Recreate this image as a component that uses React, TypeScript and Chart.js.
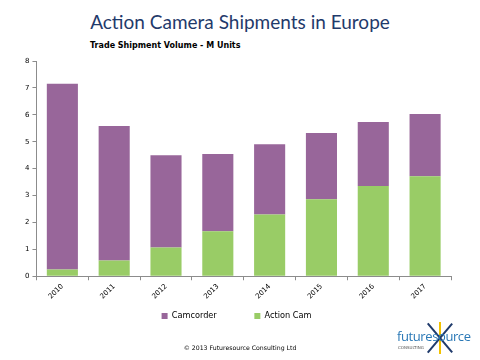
import React, { useEffect, useRef } from "react";
import { Chart, registerables } from "chart.js";

Chart.register(...registerables);

const years = ["2010", "2011", "2012", "2013", "2014", "2015", "2016", "2017"];
const actionCam = [0.25, 0.59, 1.07, 1.67, 2.3, 2.86, 3.35, 3.72];
const camcorder = [6.9, 4.99, 3.43, 2.87, 2.61, 2.46, 2.38, 2.31];
const yTicks = [0, 1, 2, 3, 4, 5, 6, 7, 8];

const PURPLE = "#98669a";
const GREEN = "#99cc66";
const AXIS = "#8c8c8c";

export default function App() {
  const ref = useRef<HTMLCanvasElement | null>(null);

  useEffect(() => {
    if (!ref.current) return;
    const chart = new Chart(ref.current, {
      type: "bar",
      data: {
        labels: years,
        datasets: [
          { label: "Action Cam", data: actionCam, backgroundColor: GREEN, borderWidth: 0 },
          { label: "Camcorder", data: camcorder, backgroundColor: PURPLE, borderWidth: 0 },
        ],
      },
      options: {
        responsive: false,
        animation: false,
        layout: { padding: { top: 61, right: 29, bottom: 30, left: 22 } },
        datasets: { bar: { categoryPercentage: 1, barPercentage: 0.6 } } as any,
        plugins: {
          title: { display: false },
          tooltip: { enabled: false },
          legend: {
            position: "bottom",
            reverse: true,
            labels: {
              boxWidth: 6,
              boxHeight: 6,
              padding: 9,
              color: "#000",
              font: { family: "DejaVu Sans", size: 8.2 },
              generateLabels: (c: any) => {
                const items = Chart.defaults.plugins.legend.labels.generateLabels(c);
                return items.map((it: any) =>
                  it.text === "Camcorder" ? { ...it, text: it.text + "           " } : it
                );
              },
            },
          },
        },
        scales: {
          x: {
            stacked: true,
            border: { color: AXIS, width: 1 },
            grid: { display: true, drawOnChartArea: false, color: AXIS, tickLength: 4, offset: true },
            ticks: {
              minRotation: 45,
              maxRotation: 45,
              color: "#000",
              padding: 2,
              font: { family: "DejaVu Sans", size: 7 },
            },
          },
          y: {
            stacked: true,
            min: 0,
            max: 8,
            afterBuildTicks: (axis: any) => {
              axis.ticks = yTicks.map((v) => ({ value: v }));
            },
            border: { color: AXIS, width: 1 },
            grid: { display: true, drawOnChartArea: false, color: AXIS, tickLength: 4 },
            ticks: {
              color: "#000",
              padding: 3,
              font: { family: "DejaVu Sans", size: 7 },
            },
          },
        },
      },
    });
    return () => chart.destroy();
  }, []);

  return (
    <div
      style={{
        position: "fixed",
        left: 0,
        top: 0,
        width: 480,
        height: 360,
        background: "#fff",
        overflow: "hidden",
      }}
    >
      <div
        style={{
          position: "absolute",
          left: 0,
          top: 10,
          width: 480,
          textAlign: "center",
          fontFamily: "Lato",
          fontSize: 19,
          color: "#1f3a6b",
          whiteSpace: "nowrap",
        }}
      >
        Action Camera Shipments in Europe
      </div>
      <div
        style={{
          position: "absolute",
          left: 90,
          top: 41,
          fontFamily: "DejaVu Sans",
          fontSize: 8,
          fontWeight: "bold",
          color: "#000",
          whiteSpace: "nowrap",
        }}
      >
        Trade Shipment Volume - M Units
      </div>
      <canvas ref={ref} width={480} height={360} style={{ position: "absolute", left: 0, top: 0 }} />
      <div
        style={{
          position: "absolute",
          left: 0,
          top: 344,
          width: 480,
          textAlign: "center",
          fontFamily: "DejaVu Sans",
          fontSize: 6.2,
          color: "#000",
          whiteSpace: "nowrap",
        }}
      >
        © 2013 Futuresource Consulting Ltd
      </div>
      <div style={{ position: "absolute", left: 397, top: 318, width: 80, height: 40 }}>
        <div
          style={{
            position: "absolute",
            left: 42,
            top: 4,
            width: 2,
            height: 32,
            background: "#f2c200",
          }}
        />
        <div
          style={{
            position: "absolute",
            left: 42,
            top: 1,
            width: 1.5,
            height: 38,
            background: "#1f3a6b",
            transform: "rotate(40deg)",
          }}
        />
        <div
          style={{
            position: "absolute",
            left: 42,
            top: 1,
            width: 1.5,
            height: 38,
            background: "#1f3a6b",
            transform: "rotate(-40deg)",
          }}
        />
        <div
          style={{
            position: "absolute",
            left: 0,
            top: 10,
            fontFamily: "Open Sans",
            fontSize: 13,
            color: "#2a78b6",
            whiteSpace: "nowrap",
            letterSpacing: -0.4,
            lineHeight: "16px",
          }}
        >
          futuresource
        </div>
        <div
          style={{
            position: "absolute",
            left: 1,
            top: 27,
            fontFamily: "DejaVu Sans",
            fontSize: 4,
            color: "#555",
            whiteSpace: "nowrap",
          }}
        >
          CONSULTING
        </div>
      </div>
    </div>
  );
}
